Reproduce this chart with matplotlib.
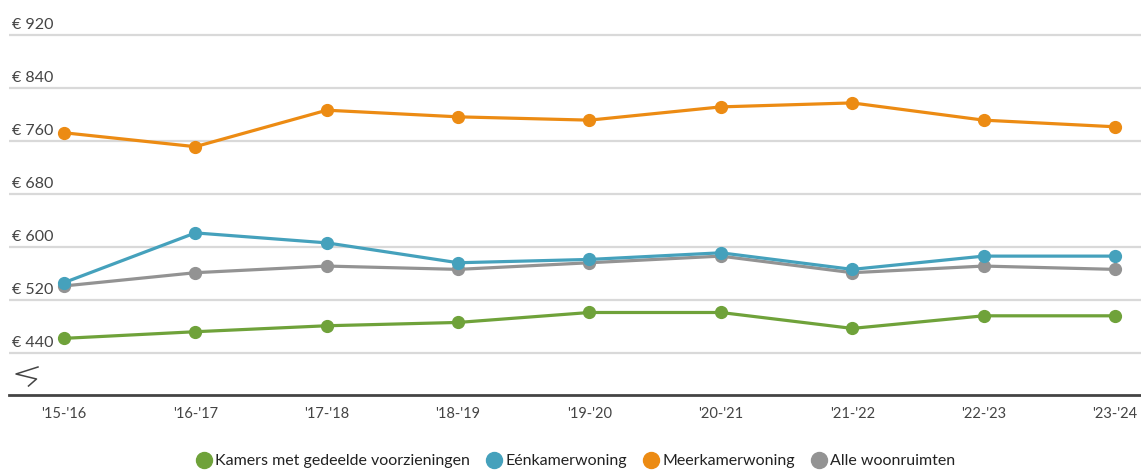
import matplotlib
matplotlib.use("Agg")
import matplotlib.pyplot as plt
from matplotlib.lines import Line2D
import matplotlib.transforms as mtransforms

years = ["'15-'16", "'16-'17", "'17-'18", "'18-'19", "'19-'20", "'20-'21", "'21-'22", "'22-'23", "'23-'24"]
kamers = [462, 472, 481, 486, 501, 501, 477, 496, 496]
eenkamer = [546, 621, 606, 576, 581, 591, 566, 586, 586]
meerkamer = [772, 751, 806, 796, 791, 811, 817, 791, 781]
alle = [541, 561, 571, 566, 576, 586, 561, 571, 566]
ytick_values = [440, 520, 600, 680, 760, 840, 920]
series_names = ["Kamers met gedeelde voorzieningen", "Eénkamerwoning", "Meerkamerwoning", "Alle woonruimten"]

colors = ["#6fa23a", "#45a1bc", "#ec8b13", "#939393"]

plt.rcParams['font.family'] = ['Lato', 'DejaVu Sans']

W, H = 1141, 471
fig = plt.figure(figsize=(W / 100, H / 100), dpi=100)
ax = fig.add_axes([9 / W, 1 - 395 / H, (W - 9) / W, (395 - 20) / H])

x = list(range(len(years)))
series = [kamers, eenkamer, meerkamer, alle]
zorders = [4, 5, 4, 3]
for vals, c, z in zip(series, colors, zorders):
    ax.plot(x, vals, color=c, lw=2.3, marker='o', markersize=8.5, zorder=z,
            solid_capstyle='round')

ax.set_xlim(-0.4186, 8.198)
ax.set_ylim(376.6, 942)

for v in ytick_values:
    ax.axhline(v, color='#d9d9d9', lw=1.6, zorder=1)
    ax.text(0.003, v + 8.5, f"€ {v}", transform=mtransforms.blended_transform_factory(ax.transAxes, ax.transData),
            ha='left', va='baseline', fontsize=11.5, color='#444444')

ax.set_yticks([])
ax.set_xticks(x)
ax.set_xticklabels(years, fontsize=10.5, color='#444444')
ax.tick_params(axis='x', length=0, pad=9)
for s in ['top', 'right', 'left']:
    ax.spines[s].set_visible(False)
ax.spines['bottom'].set_color('#444444')
ax.spines['bottom'].set_linewidth(2)

# axis break symbol
bx = [38, 16, 36.5, 28.5]
by = [367, 374, 379, 386]
fig.add_artist(Line2D([p / W for p in bx], [1 - p / H for p in by], color='#444444', lw=1.1))

handles = [Line2D([], [], color=c, marker='o', linestyle='None', markersize=11.5) for c in colors]
fig.legend(handles, series_names, loc='center', bbox_to_anchor=(575.5 / W, 1 - 461 / H),
           ncol=4, frameon=False, fontsize=11.5, handletextpad=0.2, columnspacing=1.0,
           handlelength=1.0, labelcolor='#222222')

fig.savefig("out.png", dpi=100)
